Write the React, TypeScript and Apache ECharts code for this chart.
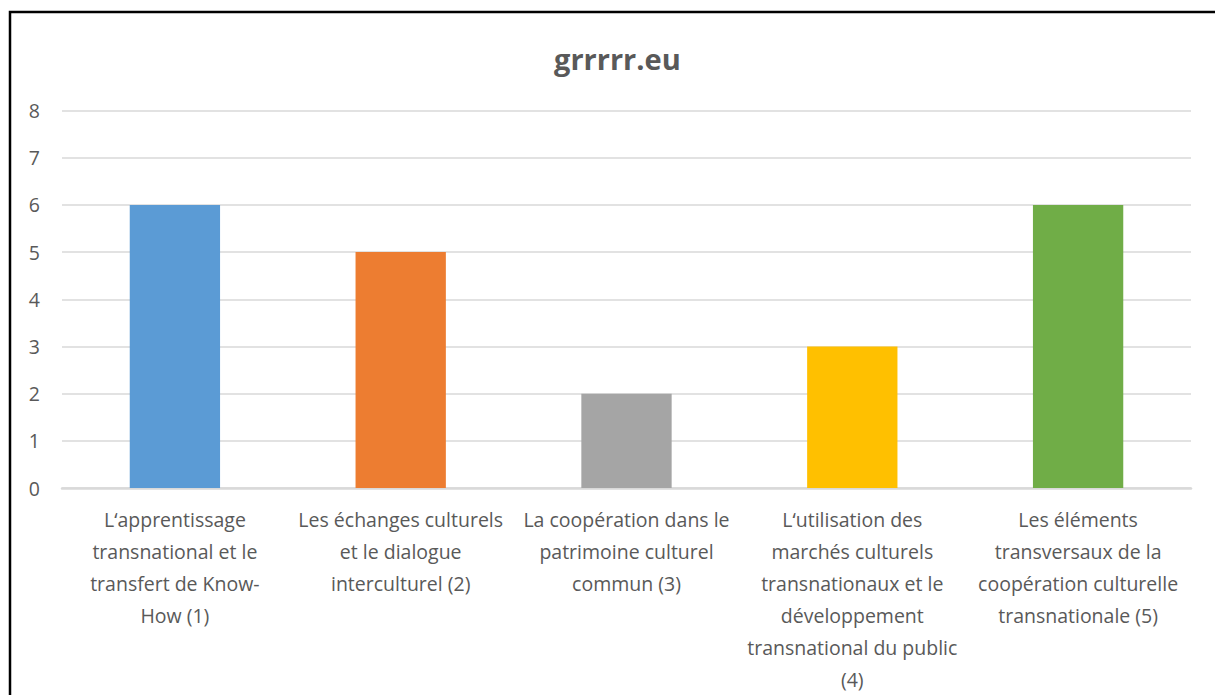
import React, { useEffect, useRef } from "react";
import * as echarts from "echarts";

const title = "grrrrr.eu";
const categories = [
  "L‘apprentissage\ntransnational et le\ntransfert de Know-\nHow (1)",
  "Les échanges culturels\net le dialogue\ninterculturel (2)",
  "La coopération dans le\npatrimoine culturel\ncommun (3)",
  "L‘utilisation des\nmarchés culturels\ntransnationaux et le\ndéveloppement\ntransnational du public\n(4)",
  "Les éléments\ntransversaux de la\ncoopération culturelle\ntransnationale (5)",
];
const values = [6, 5, 2, 3, 6];
const barColors = ["#5B9BD5", "#ED7D31", "#A5A5A5", "#FFC000", "#70AD47"];
const yMin = 0;
const yMax = 8;
const yInterval = 1;

export default function App() {
  const ref = useRef<HTMLDivElement>(null);
  useEffect(() => {
    if (!ref.current) return;
    const chart = echarts.init(ref.current, null, { renderer: "svg" });
    const font = "'Open Sans', 'Noto Sans', sans-serif";
    chart.setOption({
      animation: false,
      backgroundColor: "#ffffff",
      title: {
        text: title,
        left: 549,
        top: 39,
        textStyle: { fontFamily: font, fontSize: 29, fontWeight: "bold", color: "#595959" },
      },
      graphic: [
        {
          type: "rect",
          shape: { x: 10, y: 12, width: 1400, height: 900 },
          style: { fill: "none", stroke: "#000000", lineWidth: 2.5 },
          silent: true,
        },
      ],
      grid: { left: 62, right: 24, top: 110.5, bottom: 201.5, containLabel: false },
      xAxis: {
        type: "category",
        data: categories,
        axisLine: { show: true, lineStyle: { color: "#D9D9D9", width: 2.5 } },
        axisTick: { show: false },
        axisLabel: {
          interval: 0,
          margin: 15,
          fontFamily: font,
          fontSize: 19.5,
          lineHeight: 32,
          color: "#595959",
          align: "center",
        },
      },
      yAxis: {
        type: "value",
        min: yMin,
        max: yMax,
        interval: yInterval,
        axisLine: { show: false },
        axisTick: { show: false },
        splitLine: { lineStyle: { color: "#D9D9D9", width: 1.5 } },
        axisLabel: { margin: 22, fontFamily: font, fontSize: 19.5, color: "#595959" },
      },
      series: [
        {
          type: "bar",
          barWidth: "40%",
          data: values.map((v, i) => ({ value: v, itemStyle: { color: barColors[i] } })),
        },
      ],
    });
    return () => chart.dispose();
  }, []);
  return (
    <div
      ref={ref}
      style={{ position: "fixed", left: 0, top: 0, width: 1215, height: 695 }}
    />
  );
}
